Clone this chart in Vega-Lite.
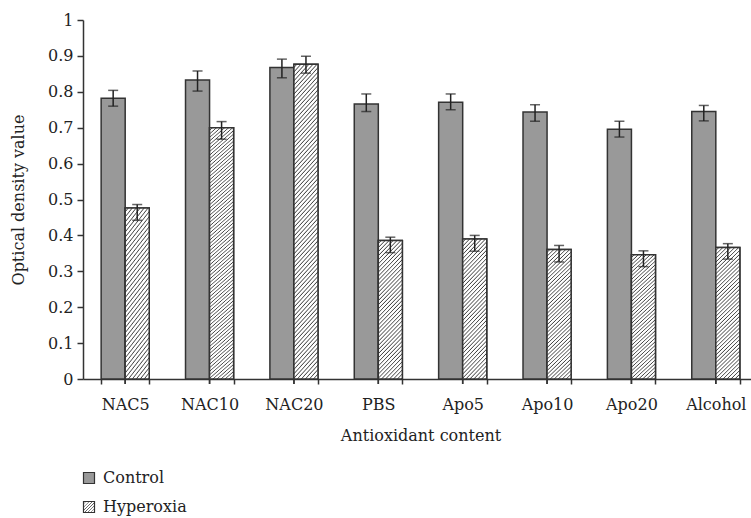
{
  "$schema": "https://vega.github.io/schema/vega-lite/v6.json",
  "width": 675,
  "height": 359,
  "autosize": {"type": "none"},
  "padding": {"left": 83, "top": 20, "right": -7, "bottom": 139},
  "background": "white",
  "config": {
    "view": {"stroke": null},
    "font": "DejaVu Serif",
    "axis": {
      "labelFont": "DejaVu Serif",
      "labelFontSize": 16,
      "labelColor": "#222",
      "titleFont": "DejaVu Serif",
      "titleFontSize": 16,
      "titleFontWeight": "normal",
      "titleColor": "#222",
      "domainColor": "#333",
      "domainWidth": 1.5,
      "tickColor": "#333",
      "tickWidth": 1.5,
      "grid": false,
      "labelOverlap": false
    },
    "legend": {
      "labelFont": "DejaVu Serif",
      "labelFontSize": 16,
      "labelColor": "#222"
    }
  },
  "data": {
    "values": [
      {"treatment": "NAC5", "group": "Control", "value": 0.782, "lo": 0.760, "hi": 0.804},
      {"treatment": "NAC10", "group": "Control", "value": 0.833, "lo": 0.802, "hi": 0.858},
      {"treatment": "NAC20", "group": "Control", "value": 0.868, "lo": 0.839, "hi": 0.891},
      {"treatment": "PBS", "group": "Control", "value": 0.766, "lo": 0.745, "hi": 0.794},
      {"treatment": "Apo5", "group": "Control", "value": 0.771, "lo": 0.750, "hi": 0.794},
      {"treatment": "Apo10", "group": "Control", "value": 0.744, "lo": 0.718, "hi": 0.764},
      {"treatment": "Apo20", "group": "Control", "value": 0.696, "lo": 0.674, "hi": 0.718},
      {"treatment": "Alcohol", "group": "Control", "value": 0.745, "lo": 0.719, "hi": 0.762},
      {"treatment": "NAC5", "group": "Hyperoxia", "value": 0.476, "lo": 0.442, "hi": 0.486},
      {"treatment": "NAC10", "group": "Hyperoxia", "value": 0.700, "lo": 0.668, "hi": 0.717},
      {"treatment": "NAC20", "group": "Hyperoxia", "value": 0.877, "lo": 0.852, "hi": 0.899},
      {"treatment": "PBS", "group": "Hyperoxia", "value": 0.386, "lo": 0.352, "hi": 0.395},
      {"treatment": "Apo5", "group": "Hyperoxia", "value": 0.390, "lo": 0.356, "hi": 0.400},
      {"treatment": "Apo10", "group": "Hyperoxia", "value": 0.361, "lo": 0.326, "hi": 0.372},
      {"treatment": "Apo20", "group": "Hyperoxia", "value": 0.346, "lo": 0.313, "hi": 0.357},
      {"treatment": "Alcohol", "group": "Hyperoxia", "value": 0.366, "lo": 0.334, "hi": 0.377}
    ]
  },
  "encoding": {
    "x": {
      "field": "treatment",
      "type": "nominal",
      "sort": null,
      "scale": {"paddingInner": 0.43, "paddingOuter": 0.215},
      "axis": {
        "title": "Antioxidant content",
        "labelAngle": 0,
        "tickBand": "extent",
        "tickSize": 5,
        "labelPadding": 12,
        "titlePadding": 15
      }
    }
  },
  "layer": [
    {
      "mark": {"type": "bar", "stroke": "#333", "strokeWidth": 1.5},
      "encoding": {
        "xOffset": {"field": "group", "type": "nominal", "scale": {"domain": ["Control", "Hyperoxia"], "paddingInner": 0, "paddingOuter": 0}},
        "y": {
          "field": "value",
          "type": "quantitative",
          "scale": {"domain": [0, 1], "nice": false},
          "axis": {
            "title": "Optical density value",
            "values": [0, 0.1, 0.2, 0.3, 0.4, 0.5, 0.6, 0.7, 0.8, 0.9, 1],
            "tickCount": 11,
            "format": ".1~f",
            "labelOverlap": false,
            "tickSize": 6,
            "labelPadding": 4,
            "titlePadding": 21
          }
        },
        "fill": {
          "field": "group",
          "type": "nominal",
          "scale": {
            "domain": ["Control", "Hyperoxia"],
            "range": [
              "#999999",
              {"expr": "{gradient: 'linear', x1: 0, y1: 0, x2: 1, y2: 1, stops: [{offset: 0, color: '#fff'}, {offset: 0.08, color: '#fff'}, {offset: 0.12, color: '#555'}, {offset: 0.143, color: '#fff'}, {offset: 0.223, color: '#fff'}, {offset: 0.263, color: '#555'}, {offset: 0.286, color: '#fff'}, {offset: 0.366, color: '#fff'}, {offset: 0.406, color: '#555'}, {offset: 0.429, color: '#fff'}, {offset: 0.509, color: '#fff'}, {offset: 0.549, color: '#555'}, {offset: 0.571, color: '#fff'}, {offset: 0.651, color: '#fff'}, {offset: 0.691, color: '#555'}, {offset: 0.714, color: '#fff'}, {offset: 0.794, color: '#fff'}, {offset: 0.834, color: '#555'}, {offset: 0.857, color: '#fff'}, {offset: 0.937, color: '#fff'}, {offset: 0.977, color: '#555'}, {offset: 1, color: '#fff'}]}"}
            ]
          },
          "legend": {
            "title": null,
            "orient": "none",
            "legendX": -2,
            "legendY": 450,
            "direction": "vertical",
            "symbolType": "square",
            "symbolSize": 121,
            "symbolStrokeColor": "#333",
            "symbolStrokeWidth": 1.2,
            "labelOffset": 6,
            "rowPadding": 13,
            "padding": 0,
            "encode": {
              "symbols": {
                "update": {
                  "stroke": {"value": "#333"},
                  "strokeWidth": {"value": 1.2}
                }
              }
            }
          }
        }
      }
    },
    {
      "transform": [{"filter": "datum.group === 'Hyperoxia' && datum.treatment !== 'NAC10' && datum.treatment !== 'NAC20'"}],
      "mark": {
        "type": "bar",
        "stroke": "#333",
        "strokeWidth": 1.5,
        "fill": {
          "gradient": "linear",
          "x1": 0, "y1": 0, "x2": 0.204, "y2": 1.142,
          "stops": [
            {"offset": 0, "color": "#fff"}, {"offset": 0.012, "color": "#fff"}, {"offset": 0.019, "color": "#444"},
            {"offset": 0.025, "color": "#fff"}, {"offset": 0.037, "color": "#fff"}, {"offset": 0.044, "color": "#444"},
            {"offset": 0.05, "color": "#fff"}, {"offset": 0.062, "color": "#fff"}, {"offset": 0.069, "color": "#444"},
            {"offset": 0.075, "color": "#fff"}, {"offset": 0.087, "color": "#fff"}, {"offset": 0.094, "color": "#444"},
            {"offset": 0.1, "color": "#fff"}, {"offset": 0.112, "color": "#fff"}, {"offset": 0.119, "color": "#444"},
            {"offset": 0.125, "color": "#fff"}, {"offset": 0.137, "color": "#fff"}, {"offset": 0.144, "color": "#444"},
            {"offset": 0.15, "color": "#fff"}, {"offset": 0.162, "color": "#fff"}, {"offset": 0.169, "color": "#444"},
            {"offset": 0.175, "color": "#fff"}, {"offset": 0.187, "color": "#fff"}, {"offset": 0.194, "color": "#444"},
            {"offset": 0.2, "color": "#fff"}, {"offset": 0.212, "color": "#fff"}, {"offset": 0.219, "color": "#444"},
            {"offset": 0.225, "color": "#fff"}, {"offset": 0.237, "color": "#fff"}, {"offset": 0.244, "color": "#444"},
            {"offset": 0.25, "color": "#fff"}, {"offset": 0.262, "color": "#fff"}, {"offset": 0.269, "color": "#444"},
            {"offset": 0.275, "color": "#fff"}, {"offset": 0.287, "color": "#fff"}, {"offset": 0.294, "color": "#444"},
            {"offset": 0.3, "color": "#fff"}, {"offset": 0.312, "color": "#fff"}, {"offset": 0.319, "color": "#444"},
            {"offset": 0.325, "color": "#fff"}, {"offset": 0.337, "color": "#fff"}, {"offset": 0.344, "color": "#444"},
            {"offset": 0.35, "color": "#fff"}, {"offset": 0.362, "color": "#fff"}, {"offset": 0.369, "color": "#444"},
            {"offset": 0.375, "color": "#fff"}, {"offset": 0.387, "color": "#fff"}, {"offset": 0.394, "color": "#444"},
            {"offset": 0.4, "color": "#fff"}, {"offset": 0.412, "color": "#fff"}, {"offset": 0.419, "color": "#444"},
            {"offset": 0.425, "color": "#fff"}, {"offset": 0.437, "color": "#fff"}, {"offset": 0.444, "color": "#444"},
            {"offset": 0.45, "color": "#fff"}, {"offset": 0.462, "color": "#fff"}, {"offset": 0.469, "color": "#444"},
            {"offset": 0.475, "color": "#fff"}, {"offset": 0.487, "color": "#fff"}, {"offset": 0.494, "color": "#444"},
            {"offset": 0.5, "color": "#fff"}, {"offset": 0.512, "color": "#fff"}, {"offset": 0.519, "color": "#444"},
            {"offset": 0.525, "color": "#fff"}, {"offset": 0.537, "color": "#fff"}, {"offset": 0.544, "color": "#444"},
            {"offset": 0.55, "color": "#fff"}, {"offset": 0.562, "color": "#fff"}, {"offset": 0.569, "color": "#444"},
            {"offset": 0.575, "color": "#fff"}, {"offset": 0.587, "color": "#fff"}, {"offset": 0.594, "color": "#444"},
            {"offset": 0.6, "color": "#fff"}, {"offset": 0.612, "color": "#fff"}, {"offset": 0.619, "color": "#444"},
            {"offset": 0.625, "color": "#fff"}, {"offset": 0.637, "color": "#fff"}, {"offset": 0.644, "color": "#444"},
            {"offset": 0.65, "color": "#fff"}, {"offset": 0.662, "color": "#fff"}, {"offset": 0.669, "color": "#444"},
            {"offset": 0.675, "color": "#fff"}, {"offset": 0.687, "color": "#fff"}, {"offset": 0.694, "color": "#444"},
            {"offset": 0.7, "color": "#fff"}, {"offset": 0.712, "color": "#fff"}, {"offset": 0.719, "color": "#444"},
            {"offset": 0.725, "color": "#fff"}, {"offset": 0.737, "color": "#fff"}, {"offset": 0.744, "color": "#444"},
            {"offset": 0.75, "color": "#fff"}, {"offset": 0.762, "color": "#fff"}, {"offset": 0.769, "color": "#444"},
            {"offset": 0.775, "color": "#fff"}, {"offset": 0.787, "color": "#fff"}, {"offset": 0.794, "color": "#444"},
            {"offset": 0.8, "color": "#fff"}, {"offset": 0.812, "color": "#fff"}, {"offset": 0.819, "color": "#444"},
            {"offset": 0.825, "color": "#fff"}, {"offset": 0.837, "color": "#fff"}, {"offset": 0.844, "color": "#444"},
            {"offset": 0.85, "color": "#fff"}, {"offset": 0.862, "color": "#fff"}, {"offset": 0.869, "color": "#444"},
            {"offset": 0.875, "color": "#fff"}, {"offset": 0.887, "color": "#fff"}, {"offset": 0.894, "color": "#444"},
            {"offset": 0.9, "color": "#fff"}, {"offset": 0.912, "color": "#fff"}, {"offset": 0.919, "color": "#444"},
            {"offset": 0.925, "color": "#fff"}, {"offset": 0.937, "color": "#fff"}, {"offset": 0.944, "color": "#444"},
            {"offset": 0.95, "color": "#fff"}, {"offset": 0.962, "color": "#fff"}, {"offset": 0.969, "color": "#444"},
            {"offset": 0.975, "color": "#fff"}, {"offset": 0.987, "color": "#fff"}, {"offset": 0.994, "color": "#444"},
            {"offset": 1, "color": "#fff"}
          ]
        }
      },
      "encoding": {
        "xOffset": {"field": "group", "type": "nominal"},
        "y": {"field": "value", "type": "quantitative"}
      }
    },
    {
      "transform": [{"filter": "datum.group === 'Hyperoxia' && (datum.treatment === 'NAC10' || datum.treatment === 'NAC20')"}],
      "mark": {
        "type": "bar",
        "stroke": "#333",
        "strokeWidth": 1.5,
        "fill": {
          "gradient": "linear",
          "x1": 0, "y1": 0, "x2": 0.0905, "y2": 1.077,
          "stops": [
            {"offset": 0, "color": "#fff"}, {"offset": 0.0062, "color": "#fff"}, {"offset": 0.0099, "color": "#444"},
            {"offset": 0.013, "color": "#fff"}, {"offset": 0.0192, "color": "#fff"}, {"offset": 0.0229, "color": "#444"},
            {"offset": 0.026, "color": "#fff"}, {"offset": 0.0322, "color": "#fff"}, {"offset": 0.0359, "color": "#444"},
            {"offset": 0.039, "color": "#fff"}, {"offset": 0.0452, "color": "#fff"}, {"offset": 0.0489, "color": "#444"},
            {"offset": 0.052, "color": "#fff"}, {"offset": 0.0582, "color": "#fff"}, {"offset": 0.0619, "color": "#444"},
            {"offset": 0.065, "color": "#fff"}, {"offset": 0.0712, "color": "#fff"}, {"offset": 0.0749, "color": "#444"},
            {"offset": 0.078, "color": "#fff"}, {"offset": 0.0842, "color": "#fff"}, {"offset": 0.0879, "color": "#444"},
            {"offset": 0.091, "color": "#fff"}, {"offset": 0.0972, "color": "#fff"}, {"offset": 0.1009, "color": "#444"},
            {"offset": 0.104, "color": "#fff"}, {"offset": 0.1102, "color": "#fff"}, {"offset": 0.1139, "color": "#444"},
            {"offset": 0.117, "color": "#fff"}, {"offset": 0.1232, "color": "#fff"}, {"offset": 0.1269, "color": "#444"},
            {"offset": 0.13, "color": "#fff"}, {"offset": 0.1362, "color": "#fff"}, {"offset": 0.1399, "color": "#444"},
            {"offset": 0.143, "color": "#fff"}, {"offset": 0.1492, "color": "#fff"}, {"offset": 0.1529, "color": "#444"},
            {"offset": 0.156, "color": "#fff"}, {"offset": 0.1622, "color": "#fff"}, {"offset": 0.1659, "color": "#444"},
            {"offset": 0.169, "color": "#fff"}, {"offset": 0.1752, "color": "#fff"}, {"offset": 0.1789, "color": "#444"},
            {"offset": 0.182, "color": "#fff"}, {"offset": 0.1882, "color": "#fff"}, {"offset": 0.1919, "color": "#444"},
            {"offset": 0.195, "color": "#fff"}, {"offset": 0.2012, "color": "#fff"}, {"offset": 0.2049, "color": "#444"},
            {"offset": 0.208, "color": "#fff"}, {"offset": 0.2142, "color": "#fff"}, {"offset": 0.2179, "color": "#444"},
            {"offset": 0.221, "color": "#fff"}, {"offset": 0.2272, "color": "#fff"}, {"offset": 0.2309, "color": "#444"},
            {"offset": 0.234, "color": "#fff"}, {"offset": 0.2402, "color": "#fff"}, {"offset": 0.2439, "color": "#444"},
            {"offset": 0.247, "color": "#fff"}, {"offset": 0.2532, "color": "#fff"}, {"offset": 0.2569, "color": "#444"},
            {"offset": 0.26, "color": "#fff"}, {"offset": 0.2662, "color": "#fff"}, {"offset": 0.2699, "color": "#444"},
            {"offset": 0.273, "color": "#fff"}, {"offset": 0.2792, "color": "#fff"}, {"offset": 0.2829, "color": "#444"},
            {"offset": 0.286, "color": "#fff"}, {"offset": 0.2922, "color": "#fff"}, {"offset": 0.2959, "color": "#444"},
            {"offset": 0.299, "color": "#fff"}, {"offset": 0.3052, "color": "#fff"}, {"offset": 0.3089, "color": "#444"},
            {"offset": 0.312, "color": "#fff"}, {"offset": 0.3182, "color": "#fff"}, {"offset": 0.3219, "color": "#444"},
            {"offset": 0.325, "color": "#fff"}, {"offset": 0.3312, "color": "#fff"}, {"offset": 0.3349, "color": "#444"},
            {"offset": 0.338, "color": "#fff"}, {"offset": 0.3442, "color": "#fff"}, {"offset": 0.3479, "color": "#444"},
            {"offset": 0.351, "color": "#fff"}, {"offset": 0.3572, "color": "#fff"}, {"offset": 0.3609, "color": "#444"},
            {"offset": 0.364, "color": "#fff"}, {"offset": 0.3702, "color": "#fff"}, {"offset": 0.3739, "color": "#444"},
            {"offset": 0.377, "color": "#fff"}, {"offset": 0.3832, "color": "#fff"}, {"offset": 0.3869, "color": "#444"},
            {"offset": 0.39, "color": "#fff"}, {"offset": 0.3962, "color": "#fff"}, {"offset": 0.3999, "color": "#444"},
            {"offset": 0.403, "color": "#fff"}, {"offset": 0.4092, "color": "#fff"}, {"offset": 0.4129, "color": "#444"},
            {"offset": 0.416, "color": "#fff"}, {"offset": 0.4222, "color": "#fff"}, {"offset": 0.4259, "color": "#444"},
            {"offset": 0.429, "color": "#fff"}, {"offset": 0.4352, "color": "#fff"}, {"offset": 0.4389, "color": "#444"},
            {"offset": 0.442, "color": "#fff"}, {"offset": 0.4482, "color": "#fff"}, {"offset": 0.4519, "color": "#444"},
            {"offset": 0.455, "color": "#fff"}, {"offset": 0.4612, "color": "#fff"}, {"offset": 0.4649, "color": "#444"},
            {"offset": 0.468, "color": "#fff"}, {"offset": 0.4742, "color": "#fff"}, {"offset": 0.4779, "color": "#444"},
            {"offset": 0.481, "color": "#fff"}, {"offset": 0.4872, "color": "#fff"}, {"offset": 0.4909, "color": "#444"},
            {"offset": 0.494, "color": "#fff"}, {"offset": 0.5002, "color": "#fff"}, {"offset": 0.5039, "color": "#444"},
            {"offset": 0.507, "color": "#fff"}, {"offset": 0.5132, "color": "#fff"}, {"offset": 0.5169, "color": "#444"},
            {"offset": 0.52, "color": "#fff"}, {"offset": 0.5262, "color": "#fff"}, {"offset": 0.5299, "color": "#444"},
            {"offset": 0.533, "color": "#fff"}, {"offset": 0.5392, "color": "#fff"}, {"offset": 0.5429, "color": "#444"},
            {"offset": 0.546, "color": "#fff"}, {"offset": 0.5522, "color": "#fff"}, {"offset": 0.5559, "color": "#444"},
            {"offset": 0.559, "color": "#fff"}, {"offset": 0.5652, "color": "#fff"}, {"offset": 0.5689, "color": "#444"},
            {"offset": 0.572, "color": "#fff"}, {"offset": 0.5782, "color": "#fff"}, {"offset": 0.5819, "color": "#444"},
            {"offset": 0.585, "color": "#fff"}, {"offset": 0.5912, "color": "#fff"}, {"offset": 0.5949, "color": "#444"},
            {"offset": 0.598, "color": "#fff"}, {"offset": 0.6042, "color": "#fff"}, {"offset": 0.6079, "color": "#444"},
            {"offset": 0.611, "color": "#fff"}, {"offset": 0.6172, "color": "#fff"}, {"offset": 0.6209, "color": "#444"},
            {"offset": 0.624, "color": "#fff"}, {"offset": 0.6302, "color": "#fff"}, {"offset": 0.6339, "color": "#444"},
            {"offset": 0.637, "color": "#fff"}, {"offset": 0.6432, "color": "#fff"}, {"offset": 0.6469, "color": "#444"},
            {"offset": 0.65, "color": "#fff"}, {"offset": 0.6562, "color": "#fff"}, {"offset": 0.6599, "color": "#444"},
            {"offset": 0.663, "color": "#fff"}, {"offset": 0.6692, "color": "#fff"}, {"offset": 0.6729, "color": "#444"},
            {"offset": 0.676, "color": "#fff"}, {"offset": 0.6822, "color": "#fff"}, {"offset": 0.6859, "color": "#444"},
            {"offset": 0.689, "color": "#fff"}, {"offset": 0.6952, "color": "#fff"}, {"offset": 0.6989, "color": "#444"},
            {"offset": 0.702, "color": "#fff"}, {"offset": 0.7082, "color": "#fff"}, {"offset": 0.7119, "color": "#444"},
            {"offset": 0.715, "color": "#fff"}, {"offset": 0.7212, "color": "#fff"}, {"offset": 0.7249, "color": "#444"},
            {"offset": 0.728, "color": "#fff"}, {"offset": 0.7342, "color": "#fff"}, {"offset": 0.7379, "color": "#444"},
            {"offset": 0.741, "color": "#fff"}, {"offset": 0.7472, "color": "#fff"}, {"offset": 0.7509, "color": "#444"},
            {"offset": 0.754, "color": "#fff"}, {"offset": 0.7602, "color": "#fff"}, {"offset": 0.7639, "color": "#444"},
            {"offset": 0.767, "color": "#fff"}, {"offset": 0.7732, "color": "#fff"}, {"offset": 0.7769, "color": "#444"},
            {"offset": 0.78, "color": "#fff"}, {"offset": 0.7862, "color": "#fff"}, {"offset": 0.7899, "color": "#444"},
            {"offset": 0.793, "color": "#fff"}, {"offset": 0.7992, "color": "#fff"}, {"offset": 0.8029, "color": "#444"},
            {"offset": 0.806, "color": "#fff"}, {"offset": 0.8122, "color": "#fff"}, {"offset": 0.8159, "color": "#444"},
            {"offset": 0.819, "color": "#fff"}, {"offset": 0.8252, "color": "#fff"}, {"offset": 0.8289, "color": "#444"},
            {"offset": 0.832, "color": "#fff"}, {"offset": 0.8382, "color": "#fff"}, {"offset": 0.8419, "color": "#444"},
            {"offset": 0.845, "color": "#fff"}, {"offset": 0.8512, "color": "#fff"}, {"offset": 0.8549, "color": "#444"},
            {"offset": 0.858, "color": "#fff"}, {"offset": 0.8642, "color": "#fff"}, {"offset": 0.8679, "color": "#444"},
            {"offset": 0.871, "color": "#fff"}, {"offset": 0.8772, "color": "#fff"}, {"offset": 0.8809, "color": "#444"},
            {"offset": 0.884, "color": "#fff"}, {"offset": 0.8902, "color": "#fff"}, {"offset": 0.8939, "color": "#444"},
            {"offset": 0.897, "color": "#fff"}, {"offset": 0.9032, "color": "#fff"}, {"offset": 0.9069, "color": "#444"},
            {"offset": 0.91, "color": "#fff"}, {"offset": 0.9162, "color": "#fff"}, {"offset": 0.9199, "color": "#444"},
            {"offset": 0.923, "color": "#fff"}, {"offset": 0.9292, "color": "#fff"}, {"offset": 0.9329, "color": "#444"},
            {"offset": 0.936, "color": "#fff"}, {"offset": 0.9422, "color": "#fff"}, {"offset": 0.9459, "color": "#444"},
            {"offset": 0.949, "color": "#fff"}, {"offset": 0.9552, "color": "#fff"}, {"offset": 0.9589, "color": "#444"},
            {"offset": 0.962, "color": "#fff"}, {"offset": 0.9682, "color": "#fff"}, {"offset": 0.9719, "color": "#444"},
            {"offset": 0.975, "color": "#fff"}, {"offset": 0.9812, "color": "#fff"}, {"offset": 0.9849, "color": "#444"},
            {"offset": 0.988, "color": "#fff"}, {"offset": 0.9942, "color": "#fff"}, {"offset": 0.9979, "color": "#444"},
            {"offset": 1, "color": "#fff"}
          ]
        }
      },
      "encoding": {
        "xOffset": {"field": "group", "type": "nominal"},
        "y": {"field": "value", "type": "quantitative"}
      }
    },
    {
      "mark": {"type": "rule", "color": "#222", "strokeWidth": 1.5},
      "encoding": {
        "xOffset": {"field": "group", "type": "nominal"},
        "y": {"field": "lo", "type": "quantitative"},
        "y2": {"field": "hi"}
      }
    },
    {
      "mark": {"type": "tick", "color": "#222", "size": 10, "thickness": 1.5},
      "encoding": {
        "xOffset": {"field": "group", "type": "nominal"},
        "y": {"field": "lo", "type": "quantitative"}
      }
    },
    {
      "mark": {"type": "tick", "color": "#222", "size": 10, "thickness": 1.5},
      "encoding": {
        "xOffset": {"field": "group", "type": "nominal"},
        "y": {"field": "hi", "type": "quantitative"}
      }
    },
    {
      "mark": {"type": "rule", "color": "#333", "strokeWidth": 1.5},
      "encoding": {
        "y": {"datum": 0, "type": "quantitative"},
        "y2": {"datum": -0.014}
      }
    }
  ]
}
